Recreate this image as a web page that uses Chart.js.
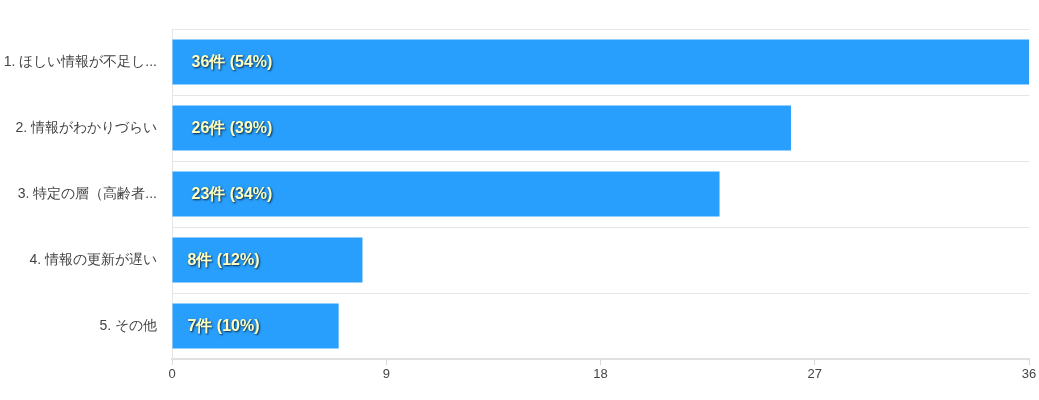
<!DOCTYPE html>
<html>
<head>
<meta charset="utf-8">
<script src="https://cdn.jsdelivr.net/npm/chart.js@4"></script>
<style>
  html, body { margin: 0; padding: 0; background: #fff; }
  #wrap { width: 1039px; height: 400px; }
</style>
</head>
<body>
<div id="wrap"><canvas id="c"></canvas></div>
<script>
// 回答データ
const categories = ["1. ほしい情報が不足し...", "2. 情報がわかりづらい", "3. 特定の層（高齢者...", "4. 情報の更新が遅い", "5. その他"];
const counts = [36, 26, 23, 8, 7];
const percents = [54, 39, 34, 12, 10];
const xTicks = [0, 9, 18, 27, 36];

const FONT = "'Liberation Sans', Arial, sans-serif";

// バーの中にラベルを描く
const barLabels = {
  id: "barLabels",
  afterDatasetsDraw(chart) {
    const ctx = chart.ctx;
    const meta = chart.getDatasetMeta(0);
    ctx.save();
    ctx.font = "bold 16px " + FONT;
    ctx.textBaseline = "middle";
    ctx.textAlign = "left";
    meta.data.forEach((bar, i) => {
      const text = counts[i] + "件 (" + percents[i] + "%)";
      const x = bar.base + 19 - (counts[i] < 10 ? 4 : 0);
      ctx.shadowColor = "rgba(0,0,0,0.75)";
      ctx.shadowOffsetX = 1;
      ctx.shadowOffsetY = 1;
      ctx.shadowBlur = 2;
      ctx.fillStyle = "#ffffc0";
      ctx.fillText(text, x, bar.y + 1);
    });
    ctx.restore();
  }
};

new Chart(document.getElementById("c"), {
  type: "bar",
  data: {
    labels: categories,
    datasets: [{
      data: counts,
      backgroundColor: "#289efd",
      borderWidth: 0,
      categoryPercentage: 0.68,
      barPercentage: 1.0
    }]
  },
  options: {
    indexAxis: "y",
    responsive: true,
    maintainAspectRatio: false,
    animation: false,
    layout: { padding: { top: 29, right: 10, left: 0, bottom: 0 } },
    scales: {
      x: {
        min: 0,
        max: 36,
        afterBuildTicks(axis) { axis.ticks = xTicks.map(v => ({ value: v })); },
        afterFit(axis) { axis.height = 41; },
        grid: { drawOnChartArea: false, drawTicks: true, tickLength: 6, color: "#d9d9d9" },
        border: { color: "#e0e0e0", width: 2 },
        ticks: { color: "#444", font: { family: FONT, size: 13 }, padding: 2, maxRotation: 0 }
      },
      y: {
        afterFit(axis) { axis.width = 172; },
        grid: { offset: true, drawTicks: false, color: "#e6e6e6" },
        border: { color: "#e6e6e6", width: 1 },
        ticks: { color: "#444", font: { family: FONT, size: 14 }, padding: 15 }
      }
    },
    plugins: {
      legend: { display: false },
      tooltip: { enabled: false }
    }
  },
  plugins: [barLabels]
});
</script>
</body>
</html>
